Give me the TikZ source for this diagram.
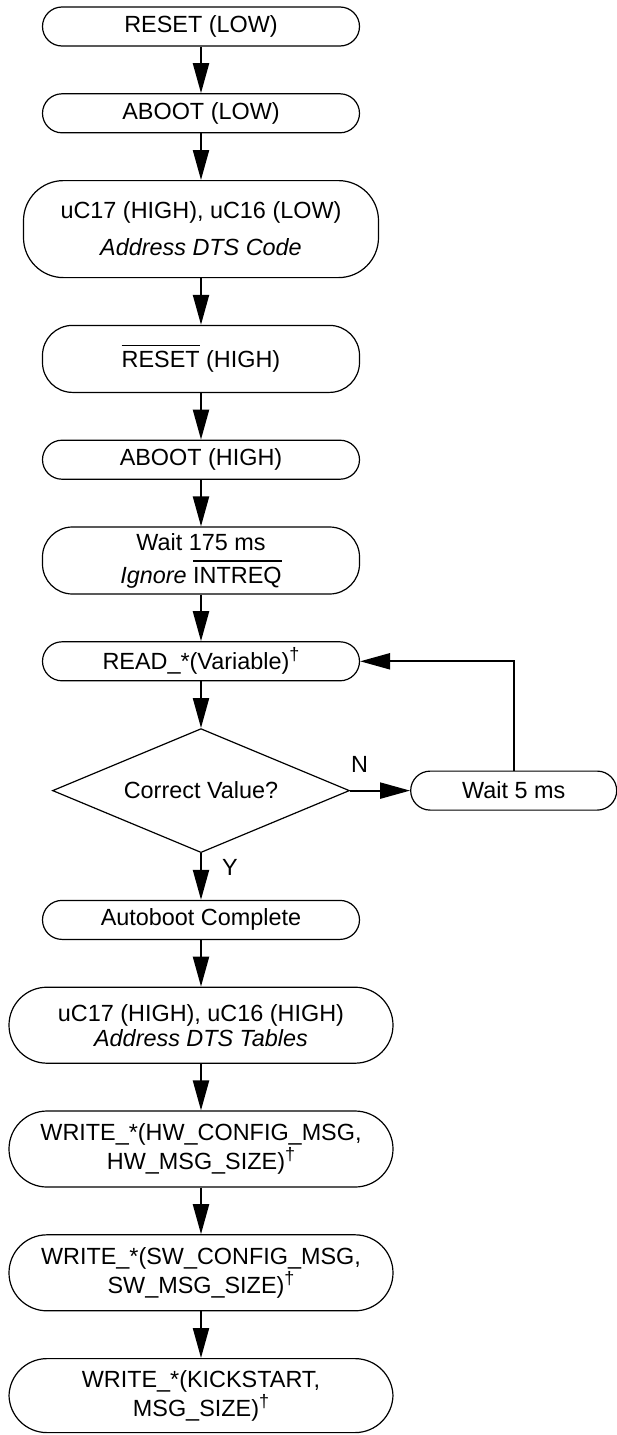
\documentclass[tikz,border=0pt]{standalone}
\usepackage{fontspec}
\setmainfont{Liberation Sans}
\usetikzlibrary{arrows.meta,positioning,shapes.geometric}

\newcommand{\barred}[1]{\setbox0=\hbox{#1}\rlap{\rule[\dimexpr\ht0+2.6pt\relax]{\wd0}{0.6pt}}\box0\relax}
\newcommand{\dagsup}{\raisebox{4.5pt}{\fontsize{9}{9}\selectfont\textdagger}}

\begin{document}
\begin{tikzpicture}[
  node distance=23.3pt,
  font=\fontsize{11.7}{12.5}\selectfont,
  proc/.style={draw, line width=0.6pt, align=center, inner sep=0pt, minimum width=158.5pt, minimum height=19.5pt, rounded corners=9.75pt},
  tall/.style={proc, minimum height=33.5pt, rounded corners=15pt},
  wide/.style={proc, minimum width=192pt, minimum height=38pt, rounded corners=19pt},
  test/.style={draw, line width=0.6pt, diamond, aspect=2.4, inner sep=0pt, minimum width=148.5pt, minimum height=62pt},
  lbl/.style={inner sep=0pt},
  arr/.style={-{Triangle[length=15pt, width=8pt]}, line width=1.1pt}
]
\useasboundingbox (-100.5pt,13.25pt) rectangle (207.5pt,-704.25pt);

\node[proc] (rstlow) {RESET (LOW)};
\node[proc, below=of rstlow] (abtlow) {ABOOT (LOW)};
\node[proc, below=of abtlow, minimum width=177.5pt, minimum height=48.5pt, rounded corners=20pt] (dtscode) {uC17 (HIGH), uC16 (LOW)\\[6pt]\textit{Address DTS Code}};
\node[tall, below=of dtscode] (rsthigh) {\barred{RESET} (HIGH)};
\node[proc, below=of rsthigh] (abthigh) {ABOOT (HIGH)};
\node[tall, below=of abthigh] (wait175) {Wait 175 ms\\[4pt]\textit{Ignore} \barred{INTREQ}};
\node[proc, below=of wait175] (readvar) {READ\_*(Variable)\dagsup};
\node[test, below=of readvar] (chk) {Correct Value?};
\node[proc, right=30pt of chk, minimum width=103pt] (wait5) {Wait 5 ms};
\node[proc, below=of chk] (done) {Autoboot Complete};
\node[wide, below=of done] (dtstab) {uC17 (HIGH), uC16 (HIGH)\\\textit{Address DTS Tables}};
\node[wide, below=of dtstab] (hwcfg) {WRITE\_*(HW\_CONFIG\_MSG,\\HW\_MSG\_SIZE)\dagsup};
\node[wide, below=of hwcfg] (swcfg) {WRITE\_*(SW\_CONFIG\_MSG,\\SW\_MSG\_SIZE)\dagsup};
\node[wide, below=of swcfg, minimum height=37pt] (kick) {WRITE\_*(KICKSTART,\\MSG\_SIZE)\dagsup};

\draw[arr] (rstlow) -- (abtlow);
\draw[arr] (abtlow) -- (dtscode);
\draw[arr] (dtscode) -- (rsthigh);
\draw[arr] (rsthigh) -- (abthigh);
\draw[arr] (abthigh) -- (wait175);
\draw[arr] (wait175) -- (readvar);
\draw[arr] (readvar) -- (chk);
\draw[arr] (chk) -- node[lbl, pos=0, above right=8.5pt and 0pt]{N} (wait5);
\draw[arr] (wait5.north) |- (readvar.east);
\draw[arr] (chk) -- node[lbl, pos=0.3, right=10pt]{Y} (done);
\draw[arr] (done) -- (dtstab);
\draw[arr] (dtstab) -- (hwcfg);
\draw[arr] (hwcfg) -- (swcfg);
\draw[arr] (swcfg) -- (kick);
\end{tikzpicture}
\end{document}
